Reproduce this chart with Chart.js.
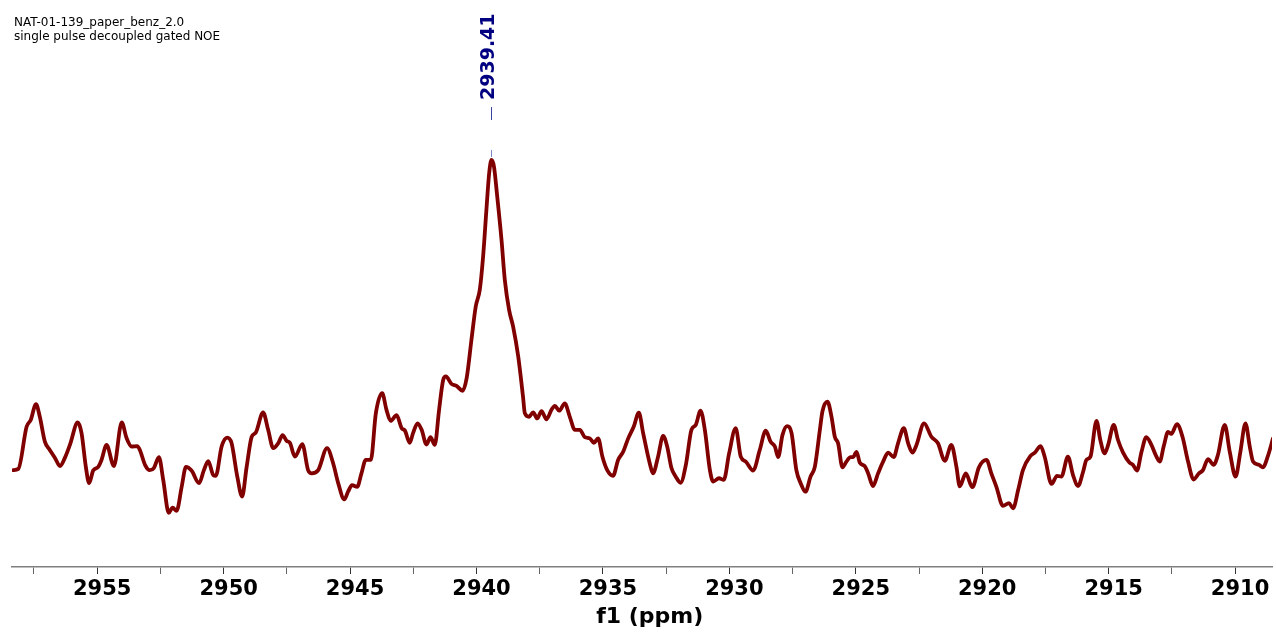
<!DOCTYPE html>
<html>
<head>
<meta charset="utf-8">
<script src="https://cdn.jsdelivr.net/npm/chart.js@4.4.1/dist/chart.umd.min.js"></script>
<style>
  html, body { margin: 0; padding: 0; background: #ffffff; }
  #wrap { width: 1276px; height: 632px; }
</style>
</head>
<body>
<div id="wrap"><canvas id="spec" width="1276" height="632"></canvas></div>
<script>
// Spectrum header lines
const headerLines = ['NAT-01-139_paper_benz_2.0', 'single pulse decoupled gated NOE'];

// Chemical shift axis (ppm) and intensity of the trace (peak = 100)
const shiftPpm = [
  2958.32, 2958.12, 2957.79, 2957.63, 2957.42, 2957.27, 2957.07, 2956.87, 2956.67, 2956.47,
  2956.28, 2956.08, 2955.77, 2955.62, 2955.45, 2955.32, 2955.16, 2954.96, 2954.83, 2954.63,
  2954.34, 2954.03, 2953.84, 2953.64, 2953.42, 2953.31, 2953.11, 2952.92, 2952.76, 2952.56,
  2952.39, 2952.17, 2952.02, 2951.86, 2951.66, 2951.49, 2951.27, 2950.97, 2950.78, 2950.61,
  2950.41, 2950.31, 2950.08, 2949.86, 2949.69, 2949.46, 2949.27, 2949.09, 2948.89, 2948.73,
  2948.44, 2948.24, 2948.04, 2947.84, 2947.67, 2947.51, 2947.38, 2947.18, 2946.89, 2946.66,
  2946.52, 2946.26, 2945.91, 2945.67, 2945.47, 2945.23, 2945.08, 2944.92, 2944.72, 2944.55,
  2944.38, 2944.18, 2943.98, 2943.73, 2943.56, 2943.40, 2943.16, 2942.96, 2942.83, 2942.64,
  2942.51, 2942.33, 2942.17, 2941.98, 2941.82, 2941.65, 2941.48, 2941.32, 2941.21, 2940.99,
  2940.79, 2940.55, 2940.39, 2940.20, 2940.03, 2939.87, 2939.74, 2939.60, 2939.50, 2939.41,
  2939.31, 2939.18, 2939.01, 2938.88, 2938.71, 2938.55, 2938.35, 2938.16, 2938.09, 2937.92,
  2937.76, 2937.60, 2937.43, 2937.23, 2937.03, 2936.90, 2936.73, 2936.51, 2936.31, 2936.11,
  2935.91, 2935.72, 2935.52, 2935.36, 2935.19, 2935.02, 2934.83, 2934.60, 2934.40, 2934.20,
  2934.00, 2933.78, 2933.58, 2933.41, 2933.15, 2933.02, 2932.82, 2932.62, 2932.46, 2932.29,
  2932.12, 2931.93, 2931.72, 2931.50, 2931.33, 2931.14, 2930.97, 2930.77, 2930.64, 2930.41,
  2930.22, 2930.01, 2929.75, 2929.55, 2929.35, 2929.06, 2928.80, 2928.56, 2928.37, 2928.20,
  2928.07, 2927.90, 2927.72, 2927.54, 2927.35, 2927.18, 2926.99, 2926.79, 2926.62, 2926.42,
  2926.32, 2926.12, 2925.96, 2925.83, 2925.70, 2925.53, 2925.37, 2925.21, 2925.11, 2924.97,
  2924.84, 2924.65, 2924.51, 2924.32, 2924.12, 2923.92, 2923.72, 2923.50, 2923.33, 2923.10,
  2922.93, 2922.76, 2922.60, 2922.30, 2922.01, 2921.75, 2921.48, 2921.22, 2921.02, 2920.89,
  2920.65, 2920.39, 2920.13, 2919.83, 2919.64, 2919.44, 2919.18, 2918.94, 2918.78, 2918.58,
  2918.39, 2918.09, 2917.92, 2917.69, 2917.53, 2917.26, 2917.04, 2916.87, 2916.61, 2916.41,
  2916.21, 2916.01, 2915.88, 2915.72, 2915.48, 2915.33, 2915.16, 2915.02, 2914.80, 2914.63,
  2914.43, 2914.17, 2914.04, 2913.88, 2913.70, 2913.51, 2913.31, 2913.11, 2912.98, 2912.82,
  2912.65, 2912.52, 2912.30, 2912.08, 2911.86, 2911.64, 2911.43, 2911.27, 2911.07, 2910.85,
  2910.68, 2910.41, 2910.21, 2909.98, 2909.79, 2909.59, 2909.42, 2909.29, 2909.06, 2908.90,
  2908.70, 2908.50
];
const intensity = [
  23.8, 24.1, 34.5, 36.1, 40.0, 36.9, 30.8, 28.7, 26.8, 24.8,
  26.8, 30.0, 35.5, 32.9, 24.6, 20.6, 23.7, 24.6, 26.3, 30.0,
  24.8, 35.5, 31.7, 29.6, 29.7, 28.7, 25.1, 23.8, 24.3, 27.0,
  21.4, 13.3, 14.6, 13.8, 19.7, 24.6, 23.7, 20.6, 23.8, 26.0,
  22.6, 22.4, 29.6, 31.8, 30.5, 22.2, 17.3, 24.6, 32.0, 33.0,
  38.0, 33.7, 29.2, 30.4, 32.4, 31.0, 30.5, 27.1, 30.2, 23.8,
  23.0, 23.8, 29.2, 25.5, 20.6, 16.6, 18.5, 20.1, 19.7, 23.0,
  26.3, 26.3, 37.8, 42.7, 38.6, 35.9, 37.3, 34.1, 33.5, 30.5,
  32.9, 35.3, 33.7, 30.1, 31.9, 30.0, 38.6, 45.9, 46.8, 45.0,
  44.5, 43.3, 46.4, 55.8, 64.0, 68.1, 76.2, 88.5, 96.7, 100.0,
  98.4, 91.0, 80.3, 70.5, 63.1, 59.0, 51.7, 41.8, 37.8, 36.9,
  38.0, 36.5, 38.3, 36.3, 38.7, 39.6, 38.4, 40.2, 36.9, 33.7,
  33.7, 31.9, 31.6, 30.5, 31.6, 27.1, 23.8, 22.4, 26.3, 28.3,
  31.6, 34.5, 37.9, 32.9, 25.5, 23.0, 27.1, 32.2, 29.6, 24.3,
  22.2, 20.7, 25.1, 33.7, 34.9, 38.4, 33.7, 23.8, 21.0, 21.8,
  21.4, 27.9, 34.1, 27.1, 25.9, 23.7, 28.7, 33.5, 30.8, 29.6,
  27.0, 32.4, 34.6, 32.9, 23.8, 20.6, 18.5, 22.2, 24.6, 33.7,
  38.2, 40.6, 36.9, 32.0, 30.4, 24.5, 25.9, 27.0, 27.0, 28.3,
  25.6, 24.8, 23.0, 19.9, 23.0, 25.9, 28.1, 27.0, 30.4, 34.1,
  30.4, 28.1, 30.0, 35.3, 32.0, 30.4, 26.1, 30.0, 24.6, 19.8,
  23.0, 19.6, 24.5, 26.3, 23.0, 19.7, 15.0, 15.7, 14.4, 18.9,
  23.8, 27.3, 28.1, 29.7, 27.1, 20.4, 22.4, 22.2, 27.1, 22.6,
  19.9, 23.4, 26.3, 27.1, 35.9, 31.2, 27.9, 30.0, 34.9, 31.2,
  28.1, 25.6, 25.1, 23.7, 28.3, 31.9, 30.0, 27.1, 25.9, 29.7,
  33.2, 32.7, 35.1, 32.0, 25.9, 21.5, 23.0, 23.8, 26.5, 25.1,
  27.5, 34.9, 28.3, 22.2, 28.3, 35.3, 29.6, 25.9, 25.1, 24.5,
  27.3, 31.6
];

// Picked peak
const peakPpm = [2939.41];
const peakIntensity = [100.0];
const peakLabels = ['2939.41'];

// Visible window of the axis
const axisRange = [2908.54, 2958.37];

const points = shiftPpm.map((x, i) => ({ x: x, y: intensity[i] }));

const isMajor = (v) => Math.abs(v / 5 - Math.round(v / 5)) < 1e-6;

const headerPlugin = {
  id: 'header',
  afterDraw(chart) {
    const ctx = chart.ctx;
    ctx.save();
    ctx.fillStyle = '#000000';
    ctx.font = '12px "DejaVu Sans"';
    ctx.textBaseline = 'alphabetic';
    ctx.textAlign = 'left';
    ctx.fillText(headerLines[0], 14, 26);
    ctx.fillText(headerLines[1], 14, 39.5);
    ctx.restore();
  }
};

const peakLabelPlugin = {
  id: 'peakLabels',
  afterDatasetsDraw(chart) {
    const ctx = chart.ctx;
    const xs = chart.scales.x, ys = chart.scales.y;
    peakPpm.forEach((p, i) => {
      const px = Math.round(xs.getPixelForValue(p)) + 0.5;
      const py = ys.getPixelForValue(peakIntensity[i]);
      ctx.save();
      // small marker above the peak top
      ctx.strokeStyle = '#7f86c4';
      ctx.lineWidth = 1;
      ctx.beginPath();
      ctx.moveTo(px, py - 3);
      ctx.lineTo(px, py - 10);
      ctx.stroke();
      // connector under the label
      ctx.strokeStyle = '#3a44a0';
      ctx.beginPath();
      ctx.moveTo(px, 107);
      ctx.lineTo(px, 120);
      ctx.stroke();
      // rotated shift value
      ctx.translate(px - 2, 100);
      ctx.rotate(-Math.PI / 2);
      ctx.fillStyle = '#000080';
      ctx.font = 'bold 19px "DejaVu Sans"';
      ctx.textAlign = 'left';
      ctx.textBaseline = 'middle';
      ctx.fillText(peakLabels[i], 0, 0);
      ctx.restore();
    });
  }
};

new Chart(document.getElementById('spec'), {
  type: 'line',
  data: {
    datasets: [{
      data: points,
      borderColor: '#800000',
      borderWidth: 3.8,
      pointRadius: 0,
      fill: false,
      cubicInterpolationMode: 'monotone',
      borderJoinStyle: 'round',
      borderCapStyle: 'round'
    }]
  },
  options: {
    responsive: false,
    animation: false,
    devicePixelRatio: 1,
    layout: { autoPadding: false, padding: { left: 12, right: 4, top: 0, bottom: 0 } },
    plugins: { legend: { display: false }, tooltip: { enabled: false }, title: { display: false } },
    scales: {
      x: {
        type: 'linear',
        reverse: true,
        min: axisRange[0],
        max: axisRange[1],
        border: { display: true, color: '#808080', width: 1.5 },
        grid: {
          drawOnChartArea: false,
          drawTicks: true,
          tickLength: 7,
          color: '#444444',
          tickColor: (c) => (c.tick && isMajor(c.tick.value) ? '#333333' : '#666666'),
          tickWidth: 1
        },
        ticks: {
          stepSize: 2.5,
          includeBounds: false,
          autoSkip: false,
          maxRotation: 0,
          padding: 3.4,
          labelOffset: 5,
          color: '#000000',
          font: { family: '"DejaVu Sans"', size: 21, weight: 'bold' },
          callback: (v) => (isMajor(v) ? String(Math.round(v)) : '')
        },
        title: {
          display: true,
          text: '  f1 (ppm)',
          color: '#000000',
          font: { family: '"DejaVu Sans"', size: 22, weight: 'bold' },
          padding: { top: -1.7, bottom: 1.3 }
        }
      },
      y: { display: false, min: 0, max: 139.3 }
    }
  },
  plugins: [headerPlugin, peakLabelPlugin]
});
</script>
</body>
</html>
